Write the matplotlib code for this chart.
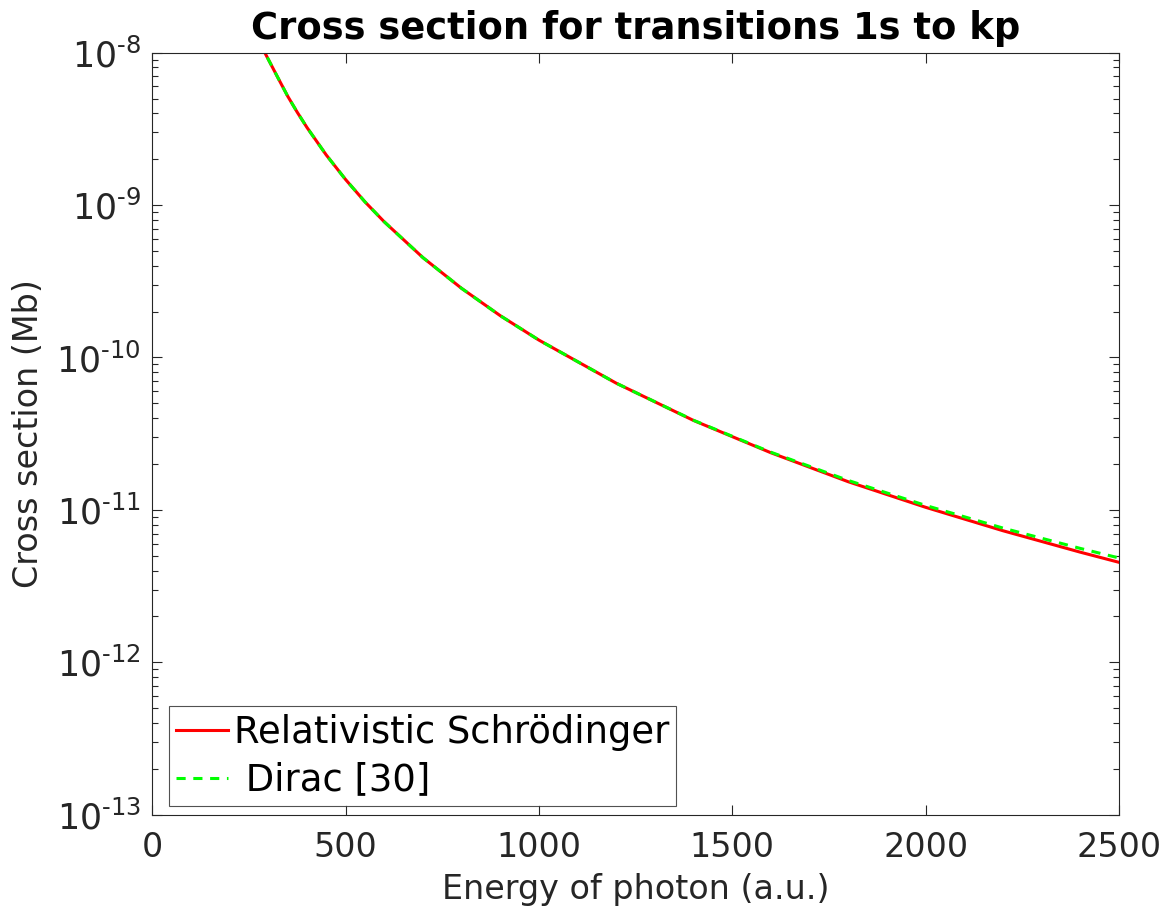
import numpy as np
import matplotlib
matplotlib.use("Agg")
import matplotlib.pyplot as plt
from matplotlib.ticker import LogLocator, NullFormatter, NullLocator, FuncFormatter

# photon energy (a.u.)
energy = [260, 291, 325, 350, 375, 400, 450, 500, 550, 600, 700, 800, 900,
          1000, 1200, 1400, 1600, 1800, 2000, 2200, 2400, 2500]

# cross sections (Mb)
sigma_rel = [1.47e-8, 1.0e-8, 6.84e-9, 5.19e-9, 4.06e-9, 3.23e-9, 2.13e-9, 1.47e-9,
             1.05e-9, 7.76e-10, 4.52e-10, 2.84e-10, 1.88e-10, 1.30e-10, 6.78e-11,
             3.86e-11, 2.37e-11, 1.53e-11, 1.04e-11, 7.30e-12, 5.28e-12, 4.53e-12]
sigma_dirac = [1.47e-8, 1.0e-8, 6.84e-9, 5.19e-9, 4.06e-9, 3.23e-9, 2.13e-9, 1.47e-9,
               1.05e-9, 7.76e-10, 4.52e-10, 2.84e-10, 1.88e-10, 1.30e-10, 6.78e-11,
               3.87e-11, 2.39e-11, 1.56e-11, 1.07e-11, 7.60e-12, 5.59e-12, 4.84e-12]

plt.rcParams['font.family'] = ['DejaVu Sans']
plt.rcParams['axes.unicode_minus'] = False
grey = '#262626'

fig = plt.figure(figsize=(11.75, 9.14), dpi=100)
ax = fig.add_axes([0.1296, 0.1086, 0.8227, 0.8338])

ax.semilogy(energy, sigma_rel, color='#ff0000', lw=2.2, label='Relativistic Schrödinger')
ax.semilogy(energy, sigma_dirac, color='#00ff00', lw=2.2, ls=(0, (3, 2.5)), label=' Dirac [30]')

ax.set_xlim(0, 2500)
ax.set_ylim(1e-13, 1e-8)
ax.set_xticks([0, 500, 1000, 1500, 2000, 2500])
ax.xaxis.set_minor_locator(NullLocator())
ax.yaxis.set_major_locator(LogLocator(base=10, numticks=10))
ax.yaxis.set_minor_locator(LogLocator(base=10, subs=np.arange(2, 10), numticks=20))
ax.yaxis.set_minor_formatter(NullFormatter())


def pow_label(v, pos):
    e = int(round(np.log10(v)))
    return r'$10^{\text{-}%d}$' % -e


ax.yaxis.set_major_formatter(FuncFormatter(pow_label))

ax.tick_params(which='both', direction='in', top=True, right=True, colors=grey,
               labelsize=24, width=0.8)
ax.tick_params(axis='y', labelsize=25)
ax.tick_params(which='major', length=7.5)
ax.tick_params(which='minor', length=4)
ax.tick_params(axis='x', pad=12)
ax.tick_params(axis='y', pad=8)
for s in ax.spines.values():
    s.set_color(grey)
    s.set_linewidth(0.8)

ax.set_xlabel('Energy of photon (a.u.)', fontsize=24, color=grey, labelpad=6)
ax.set_ylabel('Cross section (Mb)', fontsize=24, color=grey, labelpad=8)
ax.set_title('Cross section for transitions 1s to kp', fontsize=26.6,
             fontweight='bold', pad=10)

leg = ax.legend(loc='lower left', bbox_to_anchor=(169 / 1175, 1 - 806 / 914),
                bbox_transform=fig.transFigure, borderaxespad=0,
                fontsize=26.6, frameon=True, fancybox=False,
                edgecolor=grey, handlelength=1.4, handletextpad=0.15,
                borderpad=0.2, labelspacing=0.3)
leg.get_frame().set_linewidth(0.8)

fig.savefig('out.png', dpi=100, facecolor='white')
